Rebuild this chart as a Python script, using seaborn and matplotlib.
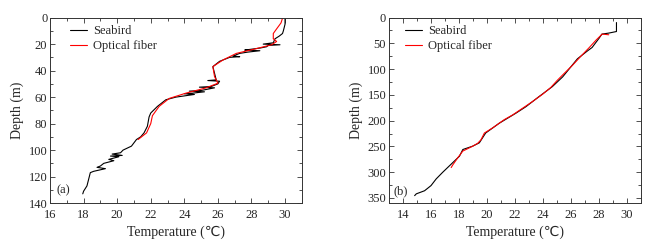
import pandas as pd
import matplotlib
matplotlib.use("Agg")
import matplotlib.pyplot as plt
import seaborn as sns
from matplotlib.ticker import MultipleLocator

# (a) Seabird profile: depth [m], temperature [C]
seabird_a_depth = [0, 5, 10, 12, 14, 16, 19, 20, 20.5, 21, 22, 23, 24, 24.5, 25, 26, 27, 29, 29.5, 30,
                   31, 33, 37, 42, 47, 47.5, 48, 50, 52, 52.5, 53, 55, 55.5, 56, 57, 57.5, 58, 60, 62, 67,
                   72, 75, 82, 87, 90, 92, 97, 100, 102, 103, 104, 104.5, 105, 107, 108, 110, 112, 113, 114, 116,
                   117, 122, 127, 131, 133]
seabird_a_temp = [30.0, 30.0, 29.9, 29.85, 29.65, 29.4, 29.3, 28.7, 29.7, 29.0, 28.9, 28.5, 27.9, 27.6, 28.5, 27.8, 27.3, 26.9, 27.3, 26.7,
                  26.5, 26.1, 25.7, 25.8, 25.9, 25.4, 26.1, 26.0, 25.6, 24.9, 25.8, 25.0, 24.3, 25.2, 24.5, 24.0, 24.6, 23.5, 22.9, 22.4,
                  22.0, 21.9, 21.8, 21.6, 21.4, 21.15, 20.85, 20.35, 20.2, 19.7, 20.3, 19.6, 20.1, 19.5, 19.8, 19.2, 19.0, 18.8, 19.3, 18.6,
                  18.4, 18.3, 18.2, 18.0, 17.95]

# (a) optical fiber profile
fiber_a_depth = [0, 4, 9, 12, 16, 18, 20.5, 24, 27, 32, 37, 44.5, 49.5, 53, 57, 61, 67, 74, 80, 87, 92]
fiber_a_temp = [29.86, 29.76, 29.47, 29.3, 29.3, 29.5, 29.2, 28.1, 27.1, 26.3, 25.7, 25.8, 26.0, 25.3, 24.1, 23.1, 22.5, 22.1, 22.0, 21.75, 21.25]

# (b) Seabird profile
seabird_b_depth = [9.6, 27, 30, 32, 40, 58, 64, 80, 96, 115, 134, 153.5, 173, 185.5, 205, 224, 243, 249.5, 256, 269,
                   288, 300, 313, 326, 336, 342, 345.5]
seabird_b_temp = [29.24, 29.24, 28.7, 28.2, 28.0, 27.5, 27.2, 26.45, 25.97, 25.4, 24.66, 23.7, 22.77, 22.06, 20.87, 19.9, 19.45, 18.97, 18.27, 18.03,
                  17.3, 16.84, 16.37, 16.0, 15.54, 14.95, 14.83]

# (b) optical fiber profile
fiber_b_depth = [33.3, 32, 43.5, 58.9, 75.5, 92.8, 108.8, 121.6, 135.6, 149, 163, 176, 189, 198, 214, 224, 237, 244, 249.5, 259,
                 272, 286, 291]
fiber_b_temp = [28.69, 28.22, 27.79, 27.27, 26.68, 26.09, 25.49, 25.02, 24.55, 23.95, 23.24, 22.53, 21.82, 21.23, 20.40, 19.81, 19.57, 19.33, 18.98, 18.27,
                17.91, 17.55, 17.44]

sns.set_style("white")
plt.rcParams["font.family"] = ["Liberation Serif", "DejaVu Sans"]

fig = plt.figure(figsize=(6.54, 2.48), dpi=100)
ax1 = fig.add_axes([0.0765, 0.181, 0.385, 0.748])
ax2 = fig.add_axes([0.5948, 0.181, 0.3855, 0.748])


def draw(ax, sb_d, sb_t, fb_d, fb_t):
    sb = pd.DataFrame({"Temperature": sb_t, "Depth": sb_d})
    fb = pd.DataFrame({"Temperature": fb_t, "Depth": fb_d})
    sns.lineplot(data=sb, x="Temperature", y="Depth", sort=False, estimator=None,
                 color="black", linewidth=0.8, label="Seabird", ax=ax)
    sns.lineplot(data=fb, x="Temperature", y="Depth", sort=False, estimator=None,
                 color="red", linewidth=0.8, label="Optical fiber", ax=ax)


draw(ax1, seabird_a_depth, seabird_a_temp, fiber_a_depth, fiber_a_temp)
draw(ax2, seabird_b_depth, seabird_b_temp, fiber_b_depth, fiber_b_temp)

# panel (a)
ax1.set_xlim(16, 31)
ax1.set_ylim(140, 0)
ax1.xaxis.set_major_locator(MultipleLocator(2))
ax1.xaxis.set_minor_locator(MultipleLocator(1))
ax1.yaxis.set_major_locator(MultipleLocator(20))
ax1.yaxis.set_minor_locator(MultipleLocator(10))
ax1.text(16.4, 130, "(a)", fontsize=9, va="center")

# panel (b)
ax2.set_xlim(13, 31)
ax2.set_ylim(360, 0)
ax2.xaxis.set_major_locator(MultipleLocator(2))
ax2.xaxis.set_minor_locator(MultipleLocator(1))
ax2.yaxis.set_major_locator(MultipleLocator(50))
ax2.yaxis.set_minor_locator(MultipleLocator(25))
ax2.text(13.3, 337, "(b)", fontsize=9, va="center")

legend_x = {ax1: 0.079, ax2: 0.063}
for ax in (ax1, ax2):
    ax.set_xlabel("Temperature (\u2103)", fontsize=10, labelpad=3.5)
    ax.set_ylabel("Depth (m)", fontsize=10, labelpad=3)
    ax.tick_params(which="both", direction="in", top=True, right=True,
                   bottom=True, left=True, color="#333333",
                   labelsize=9, width=0.6)
    ax.tick_params(axis="x", which="both", pad=4)
    ax.tick_params(axis="y", which="both", pad=2)
    ax.tick_params(which="major", length=3.5)
    ax.tick_params(which="minor", length=2)
    for s in ax.spines.values():
        s.set_linewidth(0.7)
        s.set_color("#333333")
    ax.legend(loc="upper left", frameon=False, fontsize=9, handlelength=1.4,
              handletextpad=0.45, borderaxespad=0, borderpad=0, labelspacing=0.25,
              bbox_to_anchor=(legend_x[ax], 0.96))

fig.savefig("out.png", dpi=100)
